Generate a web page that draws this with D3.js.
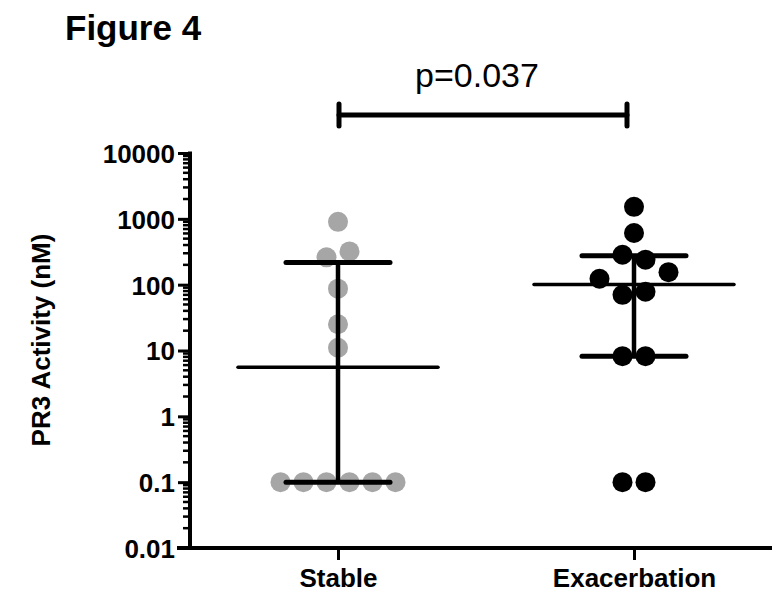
<!DOCTYPE html>
<html lang="en">
<head>
<meta charset="UTF-8">
<title>Figure 4</title>
<script src="https://cdnjs.cloudflare.com/ajax/libs/d3/7.8.5/d3.min.js"></script>
<style>
  body { margin: 0; background: #fff; }
  svg text { font-family: "Liberation Sans", Arial, sans-serif; fill: #000; }
</style>
</head>
<body>
<script>

// data
var groups = ["Stable", "Exacerbation"];
var stable = [900, 260, 320, 87, 25, 11, 0.1, 0.1, 0.1, 0.1, 0.1, 0.1];
var exacerbation = [1520, 610, 285, 240, 123, 155, 70, 78, 8.2, 8.2, 0.1, 0.1];
var colors = ["#a6a6a6", "#000000"];
var yTicks = [0.01, 0.1, 1, 10, 100, 1000, 10000];
var pText = "p=0.037";

var series = [stable, exacerbation];

var width = 776, height = 594;
var x0 = 190, y0 = 548;

var svg = d3.select("body").append("svg")
  .attr("width", width)
  .attr("height", height);

var x = d3.scalePoint().domain(groups).range([x0, 782]).padding(0.5);
var y = d3.scaleLog().domain([0.01, 10000]).range([y0, 153]);

// prism-style quantile, (n+1)p
function quant(arr, p) {
  var s = arr.slice().sort(d3.ascending);
  var pos = (s.length + 1) * p - 1;
  var lo = Math.max(0, Math.floor(pos)), hi = Math.min(s.length - 1, lo + 1);
  return s[lo] + (s[hi] - s[lo]) * (pos - lo);
}

// title
svg.append("text").attr("x", 65).attr("y", 40)
  .style("font-size", "35px").style("font-weight", "bold")
  .text("Figure 4");

// y axis with minor ticks
var minor = [];
for (var e = -2; e < 4; e++) {
  for (var m = 2; m < 10; m++) minor.push(m * Math.pow(10, e));
}
svg.append("g").selectAll("line").data(minor).enter().append("line")
  .attr("x1", x0 - 7).attr("x2", x0)
  .attr("y1", function(d) { return y(d); }).attr("y2", function(d) { return y(d); })
  .style("stroke", "#000").style("stroke-width", 2.5);

var yAxis = svg.append("g")
  .attr("transform", "translate(" + x0 + ",0)")
  .call(d3.axisLeft(y).tickValues(yTicks).tickSize(12).tickPadding(3)
    .tickFormat(function(d) { return String(d); }));
yAxis.select(".domain").remove();
yAxis.selectAll(".tick line").style("stroke", "#000").style("stroke-width", 3);
yAxis.selectAll(".tick text")
  .style("font-size", "26px").style("font-weight", "bold")
  .style("font-family", "'Liberation Sans', Arial, sans-serif")
  .attr("dy", "0.36em");

svg.append("line").attr("x1", x0).attr("x2", x0).attr("y1", y(10000) - 1.5).attr("y2", y0 + 2)
  .style("stroke", "#000").style("stroke-width", 4);

// x axis
var xAxis = svg.append("g")
  .attr("transform", "translate(0," + y0 + ")")
  .call(d3.axisBottom(x).tickSize(12).tickPadding(9));
xAxis.select(".domain").remove();
xAxis.selectAll(".tick line").style("stroke", "#000").style("stroke-width", 3);
xAxis.selectAll(".tick text")
  .style("font-size", "26px").style("font-weight", "bold")
  .style("font-family", "'Liberation Sans', Arial, sans-serif");

svg.append("line").attr("x1", x0 - 13).attr("x2", 772).attr("y1", y0).attr("y2", y0)
  .style("stroke", "#000").style("stroke-width", 4);

// y label
svg.append("text")
  .attr("transform", "translate(50,340) rotate(-90)")
  .attr("text-anchor", "middle")
  .style("font-size", "26px").style("font-weight", "bold")
  .text("PR3 Activity (nM)");

// scatter layout: rows of near-equal values spread sideways
var r = 10, step = 23;
function layout(vals) {
  var pts = [], rows = [], cur = null;
  vals.forEach(function(v) {
    var py = y(v);
    if (cur && Math.abs(py - cur.y) < 10) cur.items.push(v);
    else { cur = { y: py, items: [v] }; rows.push(cur); }
  });
  rows.forEach(function(row) {
    var n = row.items.length;
    for (var k = 0; k < 6; k++) {
      var offs = [];
      if (n % 2 === 1 && k === 0) {
        for (var i = 0; i < n; i++) offs.push((i - (n - 1) / 2) * step);
      } else {
        var half = Math.ceil(n / 2);
        var left = [], right = [];
        for (var j = 0; j < half; j++) {
          left.unshift(-(step / 2 + step * (k + j)));
          right.push(step / 2 + step * (k + j));
        }
        offs = left.concat(right).slice(0, n);
      }
      var cand = row.items.map(function(v, i) { return { v: v, dx: offs[i], y: y(v) }; });
      var hit = cand.some(function(c) {
        return pts.some(function(p) {
          return Math.hypot(p.dx - c.dx, p.y - c.y) < 2 * r - 0.5;
        });
      });
      if (!hit || k === 5) { pts = pts.concat(cand); break; }
    }
  });
  return pts;
}

series.forEach(function(vals, gi) {
  var cx = x(groups[gi]);
  var g = svg.append("g");
  g.selectAll("circle").data(layout(vals)).enter().append("circle")
    .attr("cx", function(d) { return cx + d.dx; })
    .attr("cy", function(d) { return d.y; })
    .attr("r", r)
    .style("fill", colors[gi]);

  var med = quant(vals, 0.5), q1 = quant(vals, 0.25), q3 = quant(vals, 0.75);
  g.append("line").attr("x1", cx).attr("x2", cx).attr("y1", y(q3)).attr("y2", y(q1))
    .style("stroke", "#000").style("stroke-width", 4.5);
  [q1, q3].forEach(function(q) {
    g.append("line").attr("x1", cx - 52).attr("x2", cx + 52).attr("y1", y(q)).attr("y2", y(q))
      .style("stroke", "#000").style("stroke-width", 5).style("stroke-linecap", "round");
  });
  g.append("line").attr("x1", cx - 100).attr("x2", cx + 100).attr("y1", y(med)).attr("y2", y(med))
    .style("stroke", "#000").style("stroke-width", 3.5).style("stroke-linecap", "round");
});

// significance bracket
var bx1 = x(groups[0]) + 1, bx2 = x(groups[1]) - 7, by = 115;
var br = svg.append("g").style("stroke", "#000").style("stroke-width", 5).style("stroke-linecap", "round");
br.append("line").attr("x1", bx1).attr("x2", bx2).attr("y1", by).attr("y2", by);
br.append("line").attr("x1", bx1).attr("x2", bx1).attr("y1", by - 11).attr("y2", by + 11);
br.append("line").attr("x1", bx2).attr("x2", bx2).attr("y1", by - 11).attr("y2", by + 11);

svg.append("text").attr("x", (bx1 + bx2) / 2 - 6).attr("y", 87)
  .attr("text-anchor", "middle")
  .style("font-size", "34px")
  .text(pText);

</script>
</body>
</html>
